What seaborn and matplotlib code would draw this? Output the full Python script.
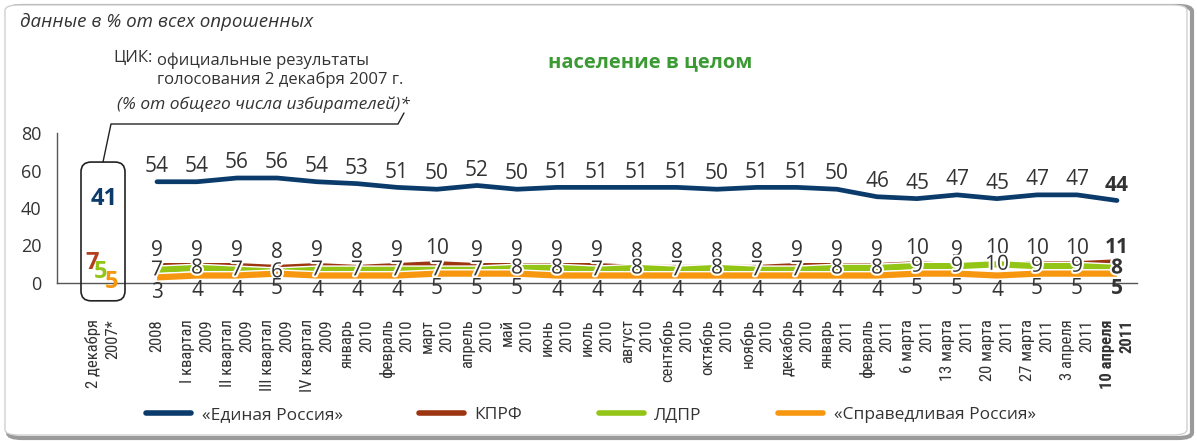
import numpy as np
import pandas as pd
import seaborn as sns
import matplotlib.pyplot as plt
import matplotlib.patheffects as pe
from matplotlib.patches import FancyBboxPatch
from matplotlib.lines import Line2D
from matplotlib import font_manager as fm

# --- data -------------------------------------------------------------
periods = ["2008", "I квартал\n2009", "II квартал\n2009", "III квартал\n2009",
           "IV квартал\n2009", "январь\n2010", "февраль\n2010", "март\n2010",
           "апрель\n2010", "май\n2010", "июнь\n2010", "июль\n2010",
           "август\n2010", "сентябрь\n2010", "октябрь\n2010", "ноябрь\n2010",
           "декабрь\n2010", "январь\n2011", "февраль\n2011", "6 марта\n2011",
           "13 марта\n2011", "20 марта\n2011", "27 марта\n2011",
           "3 апреля\n2011", "10 апреля\n2011"]
er = [54, 54, 56, 56, 54, 53, 51, 50, 52, 50, 51, 51, 51, 51, 50, 51, 51, 50,
      46, 45, 47, 45, 47, 47, 44]
kprf = [9, 9, 9, 8, 9, 8, 9, 10, 9, 9, 9, 9, 8, 8, 8, 8, 9, 9, 9, 10, 9, 10,
        10, 10, 11]
ldpr = [7, 8, 7, 6, 7, 7, 7, 7, 7, 8, 8, 7, 8, 7, 8, 7, 7, 8, 8, 9, 9, 10, 9,
        9, 8]
sr = [3, 4, 4, 5, 4, 4, 4, 5, 5, 5, 4, 4, 4, 4, 4, 4, 4, 4, 4, 5, 5, 4, 5, 5, 5]

election_label = "2 декабря\n2007*"
election = [41, 7, 5, 5]  # ЕР, КПРФ, ЛДПР, СР

parties = ["«Единая Россия»", "КПРФ", "ЛДПР", "«Справедливая Россия»"]
colors = ["#0b3b6b", "#9c3510", "#92c516", "#f7960f"]

# --- fonts ------------------------------------------------------------
sns.set_theme(style="white")
names = {f.name for f in fm.fontManager.ttflist}


def pick(*cands):
    for c in cands:
        if c in names:
            return c
    return "DejaVu Sans"


main_font = pick("Open Sans", "Noto Sans", "DejaVu Sans")
narrow_font = pick("Liberation Sans Narrow", "Roboto Condensed",
                   "Open Sans Condensed", "DejaVu Sans")
plt.rcParams["font.family"] = [main_font, "DejaVu Sans"]
txt = "#333333"

df = pd.DataFrame({"x": np.arange(len(periods)), "er": er, "kprf": kprf,
                   "ldpr": ldpr, "sr": sr})

fig = plt.figure(figsize=(11.97, 4.41), dpi=100)
W, H = 1197, 441


def fx(px):
    return px / W


def fy(py):
    return 1 - py / H


# outer rounded frame with shadow
fig.patches.append(FancyBboxPatch((fx(8), fy(438)), fx(1184), 432 / H,
                                  boxstyle="round,pad=0,rounding_size=0.012",
                                  transform=fig.transFigure, fc="none",
                                  ec="#9a9a9a", lw=3, zorder=-10))
fig.patches.append(FancyBboxPatch((fx(5), fy(435)), fx(1182), 430 / H,
                                  boxstyle="round,pad=0,rounding_size=0.012",
                                  transform=fig.transFigure, fc="white",
                                  ec="#d0d0d0", lw=1, zorder=-9))

ax = fig.add_axes([fx(57), fy(283), fx(1080), 150 / H])
ax.set_facecolor("none")
ax.set_zorder(1)

# lower parties as thick ribbons
for col, c, z in [("kprf", colors[1], 3), ("ldpr", colors[2], 4),
                  ("sr", colors[3], 5)]:
    sns.lineplot(data=df, x="x", y=col, color=c, lw=4.5, ax=ax, zorder=z,
                 clip_on=False, solid_capstyle="butt",
                 path_effects=[pe.Stroke(linewidth=6.5, foreground="white"),
                               pe.Normal()])
sns.lineplot(data=df, x="x", y="er", color=colors[0], lw=3.4, ax=ax, zorder=6,
             clip_on=False, solid_capstyle="round")

ax.set_xlim(-2.5, 24.5)
ax.set_ylim(0, 80)
ax.set_xlabel("")
ax.set_ylabel("")
for s in ["top", "right"]:
    ax.spines[s].set_visible(False)
for s in ["left", "bottom"]:
    ax.spines[s].set_color("#555555")
    ax.spines[s].set_linewidth(1)
ax.spines["bottom"].set_zorder(2)

ax.set_yticks([0, 20, 40, 60, 80])
ax.tick_params(axis="y", direction="out", length=5, width=1, color="#555555",
               labelsize=13, labelcolor=txt, pad=6)

xe = -1.35
ax.set_xticks([xe] + list(df["x"]))
ax.set_xticklabels([election_label] + periods, rotation=90, va="top",
                   ha="center", multialignment="right", fontsize=12,
                   family=[narrow_font, "DejaVu Sans"], color=txt,
                   linespacing=1.35)
ax.tick_params(axis="x", which="major", length=0, pad=26)
ax.set_xticks(np.arange(-0.5, 25, 1), minor=True)
ax.tick_params(axis="x", which="minor", direction="inout", length=6, width=1,
               color="#555555")
ax.get_xticklabels()[-1].set_fontweight("bold")

# data labels
halo = [pe.withStroke(linewidth=3, foreground="white")]
n = len(periods)
for i in range(n):
    last = i == n - 1
    fw = "bold" if last else "normal"
    ax.annotate(str(er[i]), (i, er[i]), xytext=(0, 11),
                textcoords="offset points", ha="center", va="center",
                fontsize=15, color=txt, fontweight=fw, zorder=8)
    ax.annotate(str(kprf[i]), (i, kprf[i]), xytext=(0, 11),
                textcoords="offset points", ha="center", va="center",
                fontsize=15, color=txt, fontweight=fw, zorder=8)
    ax.annotate(str(ldpr[i]), (i, ldpr[i]), xytext=(0, 0),
                textcoords="offset points", ha="center", va="center",
                fontsize=15, color=txt, fontweight=fw, zorder=8,
                path_effects=halo)
    ax.annotate(str(sr[i]), (i, sr[i]), xytext=(0, -11),
                textcoords="offset points", ha="center", va="center",
                fontsize=15, color=txt, fontweight=fw, zorder=8,
                annotation_clip=False)

# election box
ax.add_patch(FancyBboxPatch((xe - 0.55, -9.5), 1.1, 74,
                            boxstyle="round,pad=0,rounding_size=0.25",
                            mutation_aspect=21, transform=ax.transData,
                            clip_on=False, fc="none", ec="#222222", lw=1.2,
                            zorder=7))
ecol = [colors[0], "#b2401f", colors[2], colors[3]]
eoff = [(1, 5), (-8, 5), (-2, 1), (6, -6)]
for v, c, off in zip(election, ecol, eoff):
    ax.annotate(str(v), (xe, v), xytext=off, textcoords="offset points",
                ha="center", va="center", fontsize=17, fontweight="bold",
                color=c, zorder=9, annotation_clip=False)

# leader line and notes
fig.add_artist(Line2D([fx(103), fx(111), fx(398), fx(404)],
                      [fy(162), fy(124), fy(124), fy(113)],
                      transform=fig.transFigure, color="#222222", lw=1))
fig.text(fx(20), fy(22), "данные в % от всех опрошенных", fontsize=13.5,
         style="italic", color=txt, va="center", ha="left")
fig.text(fx(113), fy(58), "ЦИК:", fontsize=12, color=txt, va="center")
fig.text(fx(157), fy(70), "официальные результаты\nголосования 2 декабря 2007 г.",
         fontsize=12, color=txt, va="center", linespacing=1.2)
fig.text(fx(117), fy(105), "(% от общего числа избирателей)*", fontsize=12.5,
         style="italic", color=txt, va="center")
fig.text(fx(650), fy(62), "население в целом", fontsize=14.5, fontweight="bold",
         color="#3c9a35", ha="center", va="center")

handles = [Line2D([0], [0], color=c, lw=4, solid_capstyle="round")
           for c in colors]
fig.legend(handles, parties, loc="center", bbox_to_anchor=(fx(591), fy(415)),
           ncol=4, frameon=False, fontsize=12.5, handlelength=2.6,
           handletextpad=0.6, columnspacing=4.4, labelcolor=txt)

fig.savefig("out.png", dpi=100)
